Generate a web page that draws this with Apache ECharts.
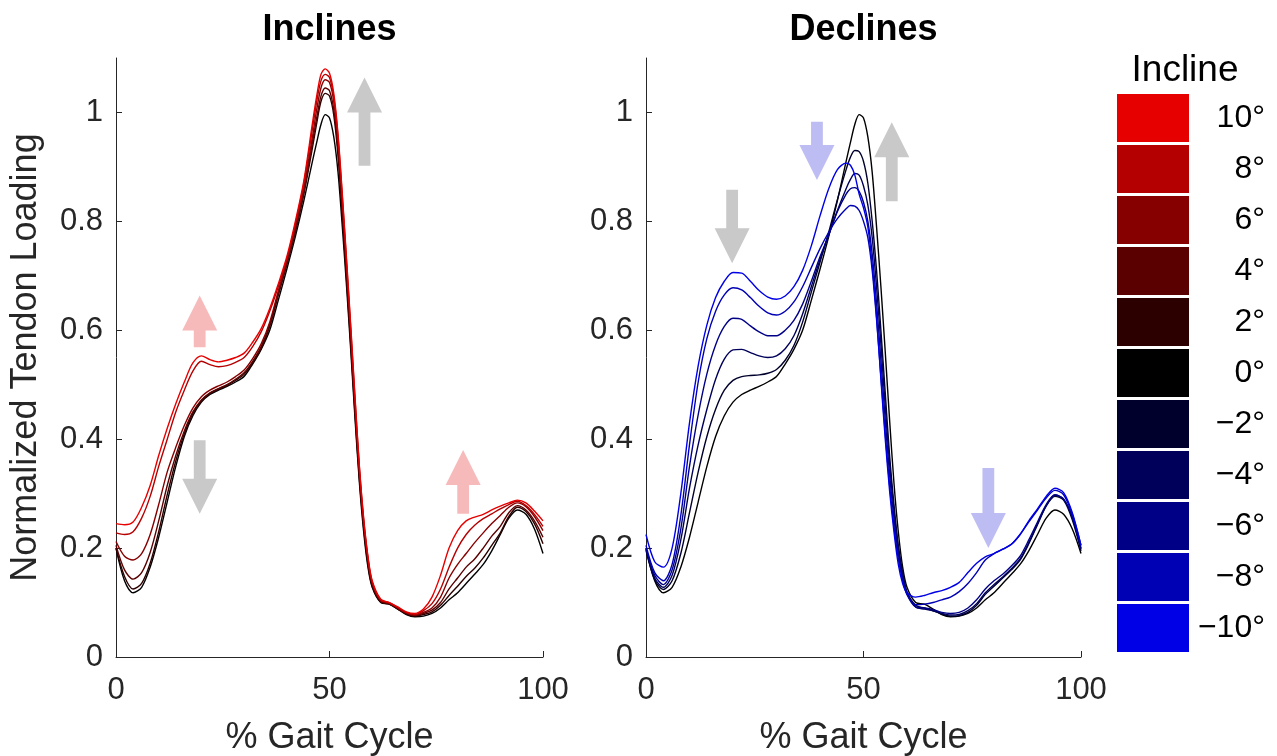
<!DOCTYPE html>
<html><head><meta charset="utf-8">
<script src="https://cdn.jsdelivr.net/npm/echarts@6/dist/echarts.min.js"></script>
<style>html,body{margin:0;padding:0;background:#fff}#c{width:1277px;height:756px}</style>
</head><body><div id="c"></div><script>
// ---- data ----
const gaitPct = [0,2,4,6,8,10,12,14,16,18,20,22,24,26,28,30,32,34,36,38,40,42,44,46,47,48,49,50,51,52,53,54,55,56,57,58,59,60,62,64,66,68,70,72,74,76,78,80,82,84,86,88,90,92,94,96,98,100];
const load0 = [0.200,0.140,0.118,0.128,0.165,0.220,0.285,0.350,0.405,0.443,0.468,0.482,0.490,0.497,0.505,0.515,0.538,0.565,0.600,0.655,0.712,0.772,0.838,0.910,0.945,0.978,0.996,0.990,0.955,0.890,0.790,0.680,0.560,0.435,0.320,0.230,0.165,0.128,0.100,0.097,0.088,0.078,0.074,0.075,0.080,0.090,0.105,0.118,0.135,0.152,0.170,0.195,0.225,0.255,0.270,0.262,0.235,0.190];
const inc2 = [0.200,0.148,0.125,0.135,0.172,0.230,0.298,0.360,0.410,0.447,0.470,0.484,0.492,0.499,0.508,0.519,0.540,0.567,0.607,0.664,0.720,0.780,0.850,0.935,0.980,1.020,1.035,1.030,0.995,0.920,0.810,0.692,0.570,0.443,0.327,0.237,0.170,0.130,0.101,0.097,0.088,0.079,0.075,0.078,0.083,0.095,0.113,0.130,0.148,0.163,0.182,0.205,0.228,0.258,0.275,0.267,0.245,0.208];
const inc4 = [0.205,0.160,0.143,0.155,0.192,0.250,0.315,0.370,0.415,0.450,0.472,0.485,0.493,0.500,0.510,0.522,0.543,0.570,0.610,0.668,0.724,0.785,0.855,0.945,0.990,1.030,1.045,1.040,1.005,0.930,0.820,0.700,0.578,0.450,0.333,0.243,0.175,0.133,0.102,0.098,0.089,0.080,0.076,0.080,0.086,0.100,0.125,0.145,0.165,0.180,0.200,0.222,0.240,0.265,0.278,0.270,0.250,0.220];
const inc6 = [0.212,0.185,0.178,0.190,0.225,0.280,0.340,0.385,0.425,0.457,0.478,0.490,0.498,0.505,0.515,0.527,0.548,0.575,0.615,0.672,0.728,0.790,0.862,0.955,1.005,1.045,1.060,1.055,1.020,0.945,0.835,0.715,0.590,0.460,0.340,0.248,0.180,0.136,0.104,0.099,0.090,0.081,0.077,0.082,0.090,0.110,0.145,0.170,0.190,0.210,0.228,0.245,0.260,0.275,0.283,0.276,0.258,0.232];
const inc8 = [0.228,0.225,0.230,0.255,0.295,0.350,0.400,0.450,0.490,0.525,0.543,0.537,0.533,0.535,0.541,0.550,0.570,0.597,0.635,0.680,0.730,0.795,0.870,0.970,1.020,1.058,1.070,1.064,1.028,0.955,0.845,0.725,0.600,0.470,0.348,0.252,0.183,0.138,0.105,0.100,0.091,0.082,0.078,0.085,0.098,0.125,0.165,0.200,0.225,0.242,0.254,0.263,0.272,0.280,0.286,0.278,0.262,0.240];
const inc10 = [0.245,0.243,0.248,0.275,0.315,0.370,0.420,0.465,0.505,0.540,0.553,0.546,0.542,0.545,0.550,0.558,0.578,0.603,0.640,0.685,0.735,0.800,0.875,0.980,1.030,1.070,1.080,1.072,1.035,0.960,0.850,0.730,0.605,0.475,0.350,0.255,0.185,0.140,0.106,0.100,0.092,0.083,0.080,0.088,0.110,0.150,0.200,0.232,0.250,0.257,0.262,0.270,0.277,0.283,0.288,0.283,0.268,0.250];
const dec2 = [0.196,0.142,0.124,0.140,0.190,0.265,0.340,0.405,0.455,0.490,0.508,0.515,0.517,0.518,0.521,0.528,0.545,0.572,0.615,0.670,0.725,0.780,0.840,0.895,0.918,0.930,0.928,0.910,0.870,0.800,0.710,0.600,0.485,0.370,0.280,0.205,0.155,0.120,0.095,0.090,0.085,0.079,0.075,0.076,0.082,0.095,0.115,0.130,0.145,0.160,0.178,0.208,0.243,0.277,0.295,0.288,0.252,0.195];
const dec4 = [0.198,0.145,0.128,0.150,0.215,0.310,0.390,0.455,0.510,0.547,0.564,0.565,0.559,0.553,0.550,0.553,0.566,0.590,0.630,0.680,0.730,0.775,0.820,0.860,0.877,0.888,0.885,0.865,0.830,0.770,0.680,0.575,0.460,0.355,0.270,0.200,0.150,0.118,0.092,0.088,0.085,0.080,0.077,0.078,0.085,0.098,0.118,0.133,0.147,0.162,0.180,0.210,0.245,0.278,0.297,0.290,0.256,0.198];
const dec6 = [0.200,0.150,0.133,0.160,0.235,0.350,0.445,0.520,0.573,0.607,0.622,0.620,0.608,0.597,0.590,0.590,0.600,0.618,0.648,0.690,0.735,0.775,0.818,0.850,0.860,0.862,0.855,0.835,0.800,0.740,0.650,0.545,0.435,0.335,0.255,0.190,0.145,0.115,0.092,0.090,0.087,0.082,0.080,0.082,0.090,0.105,0.125,0.140,0.152,0.167,0.185,0.215,0.248,0.280,0.298,0.290,0.258,0.200];
const dec8 = [0.205,0.155,0.140,0.170,0.260,0.390,0.505,0.585,0.635,0.665,0.678,0.674,0.660,0.644,0.632,0.628,0.635,0.652,0.680,0.715,0.750,0.780,0.805,0.823,0.829,0.828,0.820,0.800,0.770,0.710,0.620,0.515,0.410,0.315,0.240,0.180,0.140,0.115,0.096,0.097,0.100,0.105,0.110,0.120,0.135,0.155,0.178,0.190,0.198,0.207,0.225,0.248,0.270,0.292,0.306,0.298,0.262,0.205];
const dec10 = [0.225,0.175,0.165,0.200,0.300,0.430,0.535,0.610,0.660,0.690,0.706,0.705,0.690,0.673,0.661,0.657,0.663,0.680,0.710,0.755,0.810,0.860,0.895,0.907,0.903,0.885,0.850,0.825,0.790,0.720,0.625,0.510,0.400,0.305,0.230,0.170,0.135,0.118,0.110,0.113,0.118,0.122,0.128,0.137,0.155,0.172,0.184,0.190,0.198,0.207,0.225,0.250,0.272,0.295,0.310,0.302,0.265,0.205];

const xTicks = [0, 50, 100];
const yTicks = [0, 0.2, 0.4, 0.6, 0.8, 1];
const legendLabels = ['10°','8°','6°','4°','2°','0°','\u22122°','\u22124°','\u22126°','\u22128°','\u221210°'];
const panelTitles = ['Inclines', 'Declines'];
const legendTitle = 'Incline';
const xName = '% Gait Cycle';
const yName = 'Normalized Tendon Loading';

// arrows: [x, tail value, tip value, kind] kind 0 = grey, 1 = red, 2 = blue
const inclineArrows = [[58.2, 0.902, 1.064, 0], [19.6, 0.569, 0.664, 1], [19.6, 0.398, 0.263, 0], [81.3, 0.263, 0.380, 1]];
const declineArrows = [[19.8, 0.858, 0.723, 0], [39.3, 0.983, 0.876, 2], [56.5, 0.837, 0.982, 0], [78.7, 0.347, 0.200, 2]];

// ---- styling ----
const FONT = '"Liberation Sans", Arial, Helvetica, sans-serif';
const AX = '#262626';
const lineColors = {'10°':'#e60000','8°':'#b40000','6°':'#870000','4°':'#5a0000','2°':'#2d0000','0°':'#000000',
  '\u22122°':'#00002d','\u22124°':'#00005a','\u22126°':'#000087','\u22128°':'#0000b4','\u221210°':'#0000e6'};
const arrowColors = ['#c9c9c9', '#f7baba', '#bdbdf4'];

const inclineSets = [[load0,'0°'],[inc2,'2°'],[inc4,'4°'],[inc6,'6°'],[inc8,'8°'],[inc10,'10°']];
const declineSets = [[load0,'0°'],[dec2,'\u22122°'],[dec4,'\u22124°'],[dec6,'\u22126°'],[dec8,'\u22128°'],[dec10,'\u221210°']];

function pairs(ys){ return gaitPct.map((x,i)=>[x, ys[i]]); }

function lineSeries(sets, gi){
  return sets.map(([ys,name]) => ({
    type:'line', name, xAxisIndex:gi, yAxisIndex:gi, data:pairs(ys),
    showSymbol:false, symbol:'none', smooth:0.3, color:lineColors[name],
    lineStyle:{width:1.4, color:lineColors[name]}, z:3, silent:true
  }));
}

function arrowSeries(arr, gi){
  return {
    type:'custom', name:'arrows'+gi, xAxisIndex:gi, yAxisIndex:gi, z:2, silent:true,
    data: arr,
    renderItem(params, api){
      const x = api.value(0), tail = api.value(1), tip = api.value(2), kind = api.value(3);
      const p0 = api.coord([x, tail]), p1 = api.coord([x, tip]);
      const dir = p1[1] < p0[1] ? -1 : 1;
      const headLen = 35, headHalf = 17.5, shaftHalf = 5.9;
      const baseY = p1[1] - dir*headLen;
      const cx = p0[0];
      const pts = [[cx-shaftHalf,p0[1]],[cx-shaftHalf,baseY],[cx-headHalf,baseY],[cx,p1[1]],[cx+headHalf,baseY],[cx+shaftHalf,baseY],[cx+shaftHalf,p0[1]]];
      return {type:'polygon', shape:{points:pts}, style:{fill:arrowColors[kind]}};
    }
  };
}

function xAxis(gi){
  return {type:'value', gridIndex:gi, min:0, max:100, interval:50,
    name:xName, nameLocation:'middle', nameGap:63,
    nameTextStyle:{fontSize:36, color:AX, fontFamily:FONT},
    axisLine:{show:true, onZero:false, lineStyle:{color:AX, width:1}},
    axisTick:{show:true, inside:true, length:6, lineStyle:{color:AX}},
    axisLabel:{fontSize:31, color:AX, margin:18, fontFamily:FONT},
    splitLine:{show:false}};
}
function yAxis(gi){
  const a = {type:'value', gridIndex:gi, min:0, max:1.1,
    axisLine:{show:true, onZero:false, lineStyle:{color:AX, width:1}},
    axisTick:{show:true, inside:true, length:6, lineStyle:{color:AX}, customValues:yTicks},
    axisLabel:{fontSize:31, color:AX, margin:13, fontFamily:FONT, customValues:yTicks,
      formatter:v=>String(Math.round(v*10)/10)},
    splitLine:{show:false}};
  if (gi === 0) {
    a.name = yName; a.nameLocation = 'middle'; a.nameGap = 72;
    a.nameTextStyle = {fontSize:36, color:AX, fontFamily:FONT};
  }
  return a;
}

const chart = echarts.init(document.getElementById('c'), null, {renderer:'canvas'});
chart.setOption({
  animation:false,
  backgroundColor:'#ffffff',
  title:[
    {text:panelTitles[0], left:329.5, top:12, textAlign:'center', padding:0, textStyle:{fontSize:36, fontWeight:'bold', color:'#000', fontFamily:FONT}},
    {text:panelTitles[1], left:863.5, top:12, textAlign:'center', padding:0, textStyle:{fontSize:36, fontWeight:'bold', color:'#000', fontFamily:FONT}},
    {text:legendTitle, left:1185, top:52, textAlign:'center', padding:0, textStyle:{fontSize:37, fontWeight:'normal', color:'#000', fontFamily:FONT}}
  ],
  grid:[
    {left:116, top:58, width:427, height:599, containLabel:false, outerBoundsMode:'none'},
    {left:646, top:58, width:435, height:599, containLabel:false, outerBoundsMode:'none'}
  ],
  xAxis:[xAxis(0), xAxis(1)],
  yAxis:[yAxis(0), yAxis(1)],
  legend:{
    orient:'vertical', left:1117, top:94, itemWidth:72, itemHeight:48, itemGap:3,
    icon:'rect', selectedMode:false, data:legendLabels, padding:0,
    itemStyle:{borderWidth:0},
    formatter:n=>'{v|'+n+'}',
    textStyle:{fontSize:32, color:'#000', fontFamily:FONT,
      rich:{v:{width:71, align:'right', fontSize:32, color:'#000', fontFamily:FONT}}}
  },
  series:[
    arrowSeries(inclineArrows, 0),
    arrowSeries(declineArrows, 1),
    ...lineSeries(inclineSets, 0),
    ...lineSeries(declineSets, 1)
  ]
});
</script></body></html>
